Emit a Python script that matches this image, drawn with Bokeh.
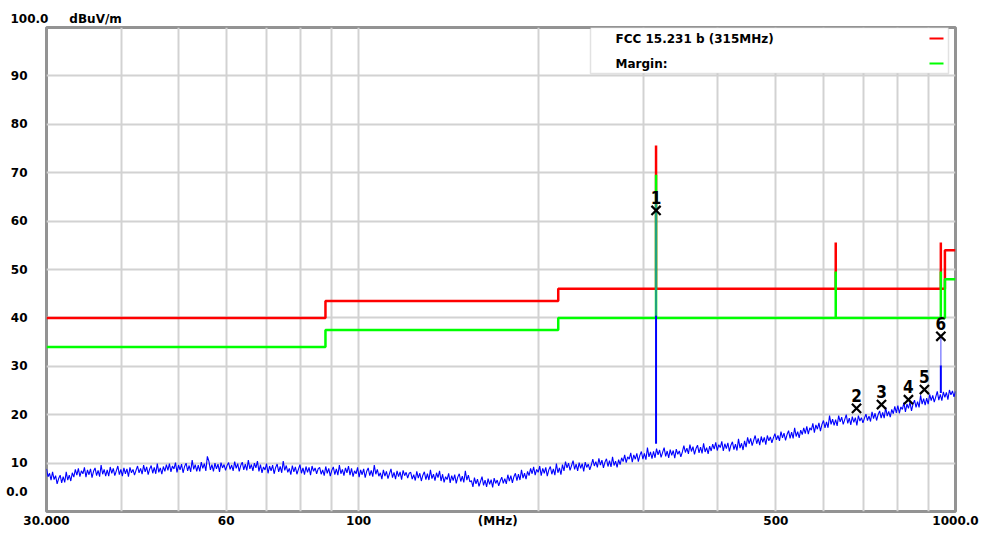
import numpy as np
from bokeh.plotting import figure
from bokeh.models import Range1d, FixedTicker, Grid, Label, BoxAnnotation, LinearAxis
from bokeh.core.properties import value
from bokeh.embed import file_html
from bokeh.resources import INLINE

# ---------------- data ----------------
# measured trace (dBuV/m), log-spaced sweep 30 MHz .. 1000 MHz
trace_start_mhz = 30
trace_stop_mhz = 1000
trace_db = [
    8.8, 7.2, 7.9, 6.5, 8.2, 6.6, 7.4, 5.7, 6.8, 7.5, 5.9, 7.2, 6.0, 8.2, 6.5, 7.5, 6.3, 8.0, 7.1, 8.7,
    7.5, 8.9, 7.2, 8.4, 7.8, 9.1, 7.1, 8.6, 7.6, 8.8, 7.0, 8.3, 9.0, 7.4, 8.5, 7.2, 9.6, 7.7, 8.7, 7.3,
    8.6, 7.3, 9.2, 7.9, 8.9, 7.4, 8.4, 9.4, 7.6, 8.7, 7.3, 9.0, 7.8, 8.8, 7.2, 9.1, 8.0, 8.7, 7.5, 8.5,
    9.4, 8.0, 8.9, 7.7, 9.6, 8.2, 9.2, 7.6, 8.8, 9.5, 7.9, 9.1, 7.8, 9.9, 8.1, 9.0, 7.7, 9.3, 8.3, 9.7,
    8.5, 9.9, 8.2, 9.4, 8.8, 10.1, 8.1, 9.6, 8.6, 9.8, 8.0, 9.3, 10.0, 8.4, 9.5, 8.2, 10.6, 8.7, 9.7, 8.3,
    9.6, 8.3, 10.2, 8.9, 9.9, 8.4, 11.4, 10.4, 8.6, 9.7, 8.3, 10.0, 8.8, 9.8, 8.2, 10.1, 9.0, 9.7, 8.5, 9.5,
    10.1, 8.7, 9.6, 8.4, 10.3, 8.9, 9.9, 8.3, 9.5, 10.2, 8.6, 9.8, 8.5, 10.6, 8.8, 9.7, 8.4, 10.0, 9.0, 10.4,
    8.3, 9.7, 8.0, 9.2, 8.6, 9.9, 7.9, 9.4, 8.4, 9.6, 7.8, 9.1, 9.8, 8.2, 9.3, 8.0, 10.4, 8.5, 9.5, 8.1,
    8.9, 7.6, 9.5, 8.2, 9.2, 7.7, 8.7, 9.7, 7.9, 9.0, 7.6, 9.3, 8.1, 9.1, 7.5, 9.4, 8.3, 9.0, 7.8, 8.8,
    9.1, 7.7, 8.6, 7.4, 9.3, 7.9, 8.9, 7.3, 8.5, 9.2, 7.6, 8.8, 7.5, 9.6, 7.8, 8.7, 7.4, 9.0, 8.0, 9.4,
    7.5, 8.9, 7.2, 8.4, 7.8, 9.1, 7.1, 8.6, 7.6, 8.8, 7.0, 8.3, 9.0, 7.4, 8.5, 7.2, 9.6, 7.7, 8.7, 7.3,
    8.0, 6.7, 8.6, 7.3, 8.3, 6.8, 7.8, 8.8, 7.0, 8.1, 6.7, 8.4, 7.2, 8.2, 6.6, 8.5, 7.4, 8.1, 6.9, 7.9,
    8.1, 6.7, 7.6, 6.4, 8.3, 6.9, 7.9, 6.3, 7.5, 8.2, 6.6, 7.8, 6.5, 8.6, 6.8, 7.7, 6.4, 8.0, 7.0, 8.4,
    6.3, 7.7, 6.0, 7.2, 6.6, 7.9, 5.9, 7.4, 6.4, 7.6, 5.8, 7.1, 7.8, 6.2, 7.3, 6.0, 8.4, 6.5, 7.5, 6.1,
    6.4, 5.1, 7.0, 5.7, 6.7, 5.2, 6.2, 7.2, 5.4, 6.5, 5.1, 6.8, 5.6, 6.6, 5.0, 6.9, 5.8, 6.5, 5.3, 6.3,
    7.1, 5.8, 6.8, 5.7, 7.6, 6.3, 7.4, 5.9, 7.2, 7.9, 6.4, 7.7, 6.5, 8.6, 6.9, 7.9, 6.7, 8.3, 7.4, 8.9,
    7.8, 9.2, 7.5, 8.7, 8.1, 9.4, 7.4, 8.9, 7.9, 9.1, 7.3, 8.6, 9.3, 7.7, 8.8, 7.5, 9.9, 8.0, 9.0, 7.6,
    9.7, 8.4, 10.3, 9.0, 10.0, 8.5, 9.5, 10.5, 8.7, 9.8, 8.4, 10.1, 8.9, 9.9, 8.3, 10.2, 9.1, 9.8, 8.6, 9.6,
    10.8, 9.4, 10.3, 9.1, 11.0, 9.6, 10.6, 9.0, 10.2, 10.9, 9.3, 10.5, 9.2, 11.3, 9.5, 10.4, 9.1, 10.7, 9.7, 11.1,
    10.3, 11.7, 10.1, 11.3, 10.8, 12.1, 10.2, 11.7, 10.8, 12.0, 10.3, 11.6, 12.4, 10.8, 12.0, 10.7, 13.2, 11.3, 12.3, 10.9,
    12.4, 11.1, 13.0, 11.7, 12.7, 11.2, 12.2, 13.2, 11.4, 12.5, 11.1, 12.8, 11.6, 12.6, 11.0, 12.9, 11.8, 12.5, 11.3, 12.3,
    13.6, 12.2, 13.1, 11.9, 13.8, 12.4, 13.4, 11.8, 13.0, 13.7, 12.1, 13.3, 12.0, 14.1, 12.3, 13.2, 11.9, 13.5, 12.5, 13.9,
    12.9, 14.3, 12.6, 13.8, 13.2, 14.5, 12.5, 14.0, 13.0, 14.2, 12.4, 13.7, 14.4, 12.8, 13.9, 12.6, 15.0, 13.1, 14.1, 12.7,
    14.6, 13.3, 15.3, 14.0, 15.1, 13.6, 14.7, 15.7, 14.0, 15.1, 13.7, 15.5, 14.3, 15.3, 13.8, 15.7, 14.6, 15.4, 14.2, 15.2,
    16.1, 14.8, 15.7, 14.6, 16.5, 15.2, 16.2, 14.7, 15.9, 16.7, 15.1, 16.4, 15.1, 17.3, 15.5, 16.5, 15.2, 16.8, 15.9, 17.3,
    16.1, 17.6, 16.0, 17.3, 16.8, 18.2, 16.3, 17.9, 17.0, 18.3, 16.6, 18.0, 18.8, 17.3, 18.5, 17.3, 19.8, 18.0, 19.1, 17.8,
    19.0, 17.7, 19.8, 18.5, 19.5, 18.0, 19.0, 20.0, 18.2, 19.3, 17.9, 19.6, 18.4, 19.4, 17.8, 19.8, 18.7, 19.4, 18.3, 19.3,
    20.1, 18.8, 19.7, 18.6, 20.6, 19.2, 20.3, 18.8, 20.0, 20.8, 19.3, 20.5, 19.3, 21.5, 19.7, 20.7, 19.5, 21.1, 20.2, 21.7,
    20.4, 21.9, 20.3, 21.6, 21.1, 22.5, 20.6, 22.2, 21.3, 22.6, 20.8, 22.2, 23.0, 21.5, 22.7, 21.5, 24.0, 22.2, 23.3, 22.0,
    23.4, 22.2, 24.2, 22.9, 24.0, 22.6, 23.7, 24.8, 23.0, 24.2, 22.9, 24.7, 23.6, 24.6, 23.1, 25.1, 24.1, 24.9, 23.7, 24.8,
]

# FCC 15.231 b (315MHz) limit line
limit_freq = [30, 88, 88, 216, 216, 315, 315, 315, 630, 630, 630, 945, 945, 945, 960, 960, 1000]
limit_db = [40, 40, 43.5, 43.5, 46, 46, 75.6, 46, 46, 55.6, 46, 46, 55.6, 46, 46, 54, 54]
# margin line
margin_freq = [30, 88, 88, 216, 216, 315, 315, 315, 630, 630, 630, 945, 945, 945, 960, 960, 1000]
margin_db = [34, 34, 37.5, 37.5, 40, 40, 69.6, 40, 40, 49.6, 40, 40, 49.6, 40, 40, 48, 48]

# emission spikes
spike_freq = [315, 945]
spike_base_db = [14.0, 24.5]
spike_peak_db = [40.5, 30.2]
spike_ext_db = [65.5, 36.2]

# markers
marker_ids = ["1", "2", "3", "4", "5", "6"]
marker_freq = [315, 682.6, 751.6, 834, 887, 945]
marker_db = [62.2, 21.3, 22.1, 23.1, 25.2, 36.2]

# axes
y_ticks = [0, 10, 20, 30, 40, 50, 60, 70, 80, 90, 100]
y_tick_labels = ["0.0", "10", "20", "30", "40", "50", "60", "70", "80", "90", "100.0"]
y_grid = [10, 20, 30, 40, 50, 60, 70, 80, 90]
x_ticks = [30, 60, 100, 171, 500, 1000]
x_tick_labels = ["30.000", "60", "100", "(MHz)", "500", "1000.0"]
x_grid = [40, 50, 60, 70, 80, 90, 100, 200, 300, 400, 500, 600, 700, 800, 900]
y_unit = "dBuV/m"
legend_names = ["FCC 15.231 b (315MHz)", "Margin:"]

# ---------------- styles ----------------
FONT = "DejaVu Sans"
RED = "#ff0000"
GREEN = "#00ff00"
BLUE = "#0000ff"
NBSP = "\u00a0"

p = figure(width=990, height=532, x_axis_type="log", y_axis_location=None,
           x_range=Range1d(30, 1000), y_range=Range1d(0, 100),
           output_backend="svg", toolbar_location=None,
           min_border_left=46, min_border_right=35, min_border_top=27, min_border_bottom=21)
p.background_fill_color = "white"
p.border_fill_color = "white"
p.outline_line_color = "#939393"
p.outline_line_width = 3

# title row: top tick label and unit
p.title.text = y_tick_labels[-1] + NBSP * 5 + y_unit
p.title.align = "left"
p.title.offset = -36
p.title.standoff = 4
p.title.text_font = FONT
p.title.text_font_size = "12px"
p.title.text_font_style = "bold"
p.title.text_color = "black"

# grids
p.center = [r for r in p.center if not isinstance(r, Grid)]
p.add_layout(Grid(dimension=0, ticker=FixedTicker(ticks=x_grid),
                  grid_line_color="#d2d2d2", grid_line_width=2))
p.add_layout(Grid(dimension=1, ticker=FixedTicker(ticks=y_grid),
                  grid_line_color="#d2d2d2", grid_line_width=2))

# x axis
ax = p.xaxis[0]
ax.ticker = FixedTicker(ticks=x_ticks)
ax.major_label_overrides = {t: l for t, l in zip(x_ticks, x_tick_labels)}
ax.axis_line_color = None
ax.major_tick_line_color = None
ax.minor_tick_line_color = None
ax.major_tick_out = 0
ax.major_tick_in = 0
ax.minor_tick_out = 0
ax.major_label_standoff = 2
ax.major_label_text_font = FONT
ax.major_label_text_font_size = "12px"
ax.major_label_text_font_style = "bold"
ax.major_label_text_color = "black"

# y axis (bottom label lifted above the corner with trailing blank lines)
yax = LinearAxis(ticker=FixedTicker(ticks=y_ticks[:-1]))
overrides = {t: l for t, l in zip(y_ticks[:-1], y_tick_labels[:-1])}
overrides[y_ticks[0]] = y_tick_labels[0] + "\n\n"
yax.major_label_overrides = overrides
yax.axis_line_color = None
yax.major_tick_line_color = None
yax.minor_tick_line_color = None
yax.major_tick_out = 0
yax.major_tick_in = 0
yax.minor_tick_out = 0
yax.major_label_standoff = 19
yax.major_label_text_font = FONT
yax.major_label_text_font_size = "12px"
yax.major_label_text_font_style = "bold"
yax.major_label_text_color = "black"
p.add_layout(yax, "left")

# limit / margin lines
p.line(limit_freq, limit_db, line_color=RED, line_width=2.5)
p.line(margin_freq, margin_db, line_color=GREEN, line_width=2.5)

# trace
freqs = np.geomspace(trace_start_mhz, trace_stop_mhz, len(trace_db))
p.line(freqs, trace_db, line_color=BLUE, line_width=1.1)
p.segment(x0=spike_freq, y0=spike_base_db, x1=spike_freq, y1=spike_peak_db,
          line_color=BLUE, line_width=2)
p.segment(x0=spike_freq[:1], y0=spike_peak_db[:1], x1=spike_freq[:1], y1=spike_ext_db[:1],
          line_color="#2a8c9c", line_width=1.6)
p.segment(x0=spike_freq[1:], y0=spike_peak_db[1:], x1=spike_freq[1:], y1=spike_ext_db[1:],
          line_color="#9090ff", line_width=1.6)

# markers
p.scatter(marker_freq, marker_db, marker="x", size=13, line_width=2.2, color="black")
p.text(x=marker_freq, y=marker_db, text=marker_ids, y_offset=-13,
       text_font=value("DejaVu Sans Condensed"), text_font_size="17px", text_font_style="bold",
       text_align="center", text_baseline="middle", text_color="black")

# legend box (frame-relative screen units)
p.add_layout(BoxAnnotation(left=544, right=902, top=484, bottom=438,
                           left_units="screen", right_units="screen",
                           top_units="screen", bottom_units="screen",
                           fill_color="white", fill_alpha=1.0,
                           line_color="#a0a0a0", line_width=1.5))
for i, (name, col) in enumerate(zip(legend_names, [RED, GREEN])):
    yc = 473 - 25 * i
    p.add_layout(Label(x=569, x_units="screen", y=yc, y_units="screen", text=name,
                       text_font=FONT, text_font_size="12px", text_font_style="bold",
                       text_baseline="middle", text_align="left", text_color="black"))
    p.add_layout(BoxAnnotation(left=883, right=897, top=yc + 1, bottom=yc - 1,
                               left_units="screen", right_units="screen",
                               top_units="screen", bottom_units="screen",
                               fill_color=col, fill_alpha=1.0, line_color=None))

open("out.html", "w").write(file_html(p, INLINE))
